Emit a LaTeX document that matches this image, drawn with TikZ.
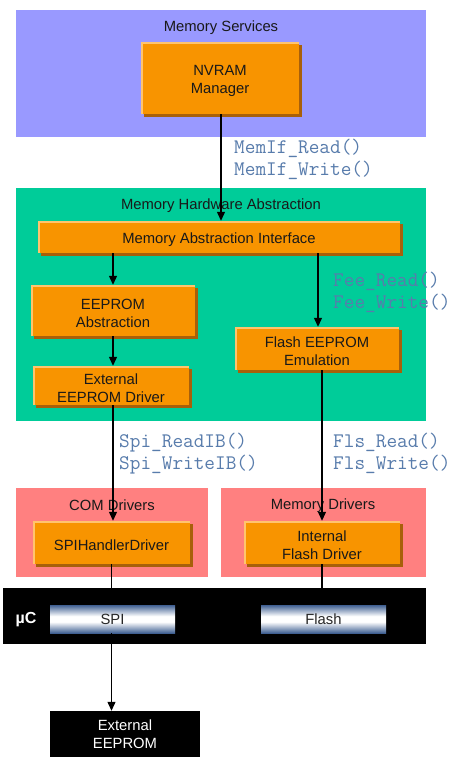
\documentclass[tikz,border=0pt]{standalone}
\usepackage{fontspec}
\setmainfont{Liberation Sans}
\usetikzlibrary{shadows,arrows.meta}
\definecolor{svcpurple}{RGB}{153,153,255}
\definecolor{hwgreen}{RGB}{0,204,153}
\definecolor{drvpink}{RGB}{255,128,128}
\definecolor{boxorange}{RGB}{248,148,0}
\definecolor{boxshadow}{RGB}{168,96,10}
\definecolor{boxlight}{RGB}{255,196,110}
\definecolor{apiblue}{RGB}{88,124,172}
\definecolor{bardark}{RGB}{64,96,146}
\pgfdeclareverticalshading{barshade}{100bp}{color(0bp)=(bardark); color(25bp)=(bardark); color(32bp)=(bardark!65!white); color(45bp)=(white); color(55bp)=(white); color(68bp)=(bardark!65!white); color(75bp)=(bardark); color(100bp)=(bardark)}
\begin{document}
\begin{tikzpicture}[x=1pt,y=-1pt,
  font=\fontsize{14.8}{18}\selectfont,
  obox/.style={fill=boxorange, inner sep=0pt,
    drop shadow={shadow xshift=2.5pt, shadow yshift=-2.5pt, fill=boxshadow, opacity=1},
    path picture={\draw[boxlight, line width=3pt] (path picture bounding box.south west) -- (path picture bounding box.north west) -- (path picture bounding box.north east);}},
  btext/.style={label={[yshift=-2.5pt, align=center, inner sep=0pt, text=black!90]center:#1}},
  title/.style={inner sep=0pt, text=black!90, yshift=-2.5pt},
  api/.style={font=\ttfamily\fontsize{20.7}{22}\selectfont, text=apiblue, anchor=base west, inner sep=0pt},
  conn/.style={line width=1.2pt, draw=black},
  arr/.style={conn, -{Triangle[length=9pt,width=8pt]}},
  bar/.style={shading=barshade, inner sep=0pt, minimum width=125pt, minimum height=28pt, text=black!85}]
\useasboundingbox (0,0) rectangle (460,760);
\fill[white] (0,0) rectangle (460,760);
% regions
\fill[svcpurple] (16,10) rectangle (426,137);
\fill[hwgreen] (16,188) rectangle (426,421);
\fill[drvpink] (16,488) rectangle (208,577);
\fill[drvpink] (221,488) rectangle (426,577);
\fill[black] (3,588) rectangle (426,644);
% titles
\node[title] (tsvc) at (221,25) {Memory Services};
\node[title] (thw) at (221,203) {Memory Hardware Abstraction};
\node[title] (tcom) at (112,503) {COM Drivers};
\node[title] (tmem) at (323,503) {Memory Drivers};
\node[inner sep=0pt, text=white, font=\bfseries\fontsize{16}{18}\selectfont, yshift=-3pt] (tuc) at (26,617) {µC};
% boxes
\node[obox, btext={NVRAM\\Manager}, minimum width=158pt, minimum height=71pt] (nvram) at (220,78.5) {};
\node[obox, btext={Memory Abstraction Interface}, minimum width=362pt, minimum height=32pt] (mai) at (219,237) {};
\node[obox, btext={EEPROM\\Abstraction}, minimum width=164pt, minimum height=51pt] (eeabs) at (113,310.5) {};
\node[obox, btext={External\\EEPROM Driver}, minimum width=156pt, minimum height=39pt] (extdrv) at (111,385.5) {};
\node[obox, btext={Flash EEPROM\\Emulation}, minimum width=164pt, minimum height=43pt] (fee) at (317,348.5) {};
\node[obox, btext={SPIHandlerDriver}, minimum width=157pt, minimum height=43pt] (spih) at (111.5,542.5) {};
\node[obox, btext={Internal\\Flash Driver}, minimum width=156pt, minimum height=43pt] (intfl) at (322,542.5) {};
% bars
\node[bar] (spi) at (112.5,619) {\raisebox{-1.5pt}{SPI}};
\node[bar] (flash) at (323.5,619) {\raisebox{-1.5pt}{Flash}};
\node[fill=black, inner sep=0pt, minimum width=150pt, minimum height=46pt, text=white, align=center] (extee) at (125,734) {External\\EEPROM};
% api labels
\node[api] (memr) at (234,153.5) {MemIf\_Read()};
\node[api] (memw) at (234,175.5) {MemIf\_Write()};
\node[api] (feer) at (333,286) {Fee\_Read()};
\node[api] (feew) at (333,308) {Fee\_Write()};
\node[api] (spir) at (119,447) {Spi\_ReadIB()};
\node[api] (spiw) at (119,469) {Spi\_WriteIB()};
\node[api] (flsr) at (333,447) {Fls\_Read()};
\node[api] (flsw) at (333,469) {Fls\_Write()};
% connectors
\draw[arr] ([xshift=1pt]nvram.south) -- ([xshift=1pt]nvram.south |- mai.north);
\draw[arr] (eeabs.north |- mai.south) -- (eeabs.north);
\draw[arr] ([xshift=1pt]fee.north |- mai.south) -- ([xshift=1pt]fee.north);
\draw[arr] (eeabs.south) -- ([xshift=2pt]extdrv.north);
\draw[arr] ([xshift=2pt]extdrv.south) -- ([xshift=1.5pt]spih.north);
\draw[arr] (intfl.north |- fee.south) -- (intfl.north);
\draw[conn] (spih.south) -- (spih.south |- spi.north);
\draw[conn] (intfl.south) -- (intfl.south |- flash.north);
\draw[arr] (spi.south -| spih.south) -- (spih.south |- extee.north);
\end{tikzpicture}
\end{document}
